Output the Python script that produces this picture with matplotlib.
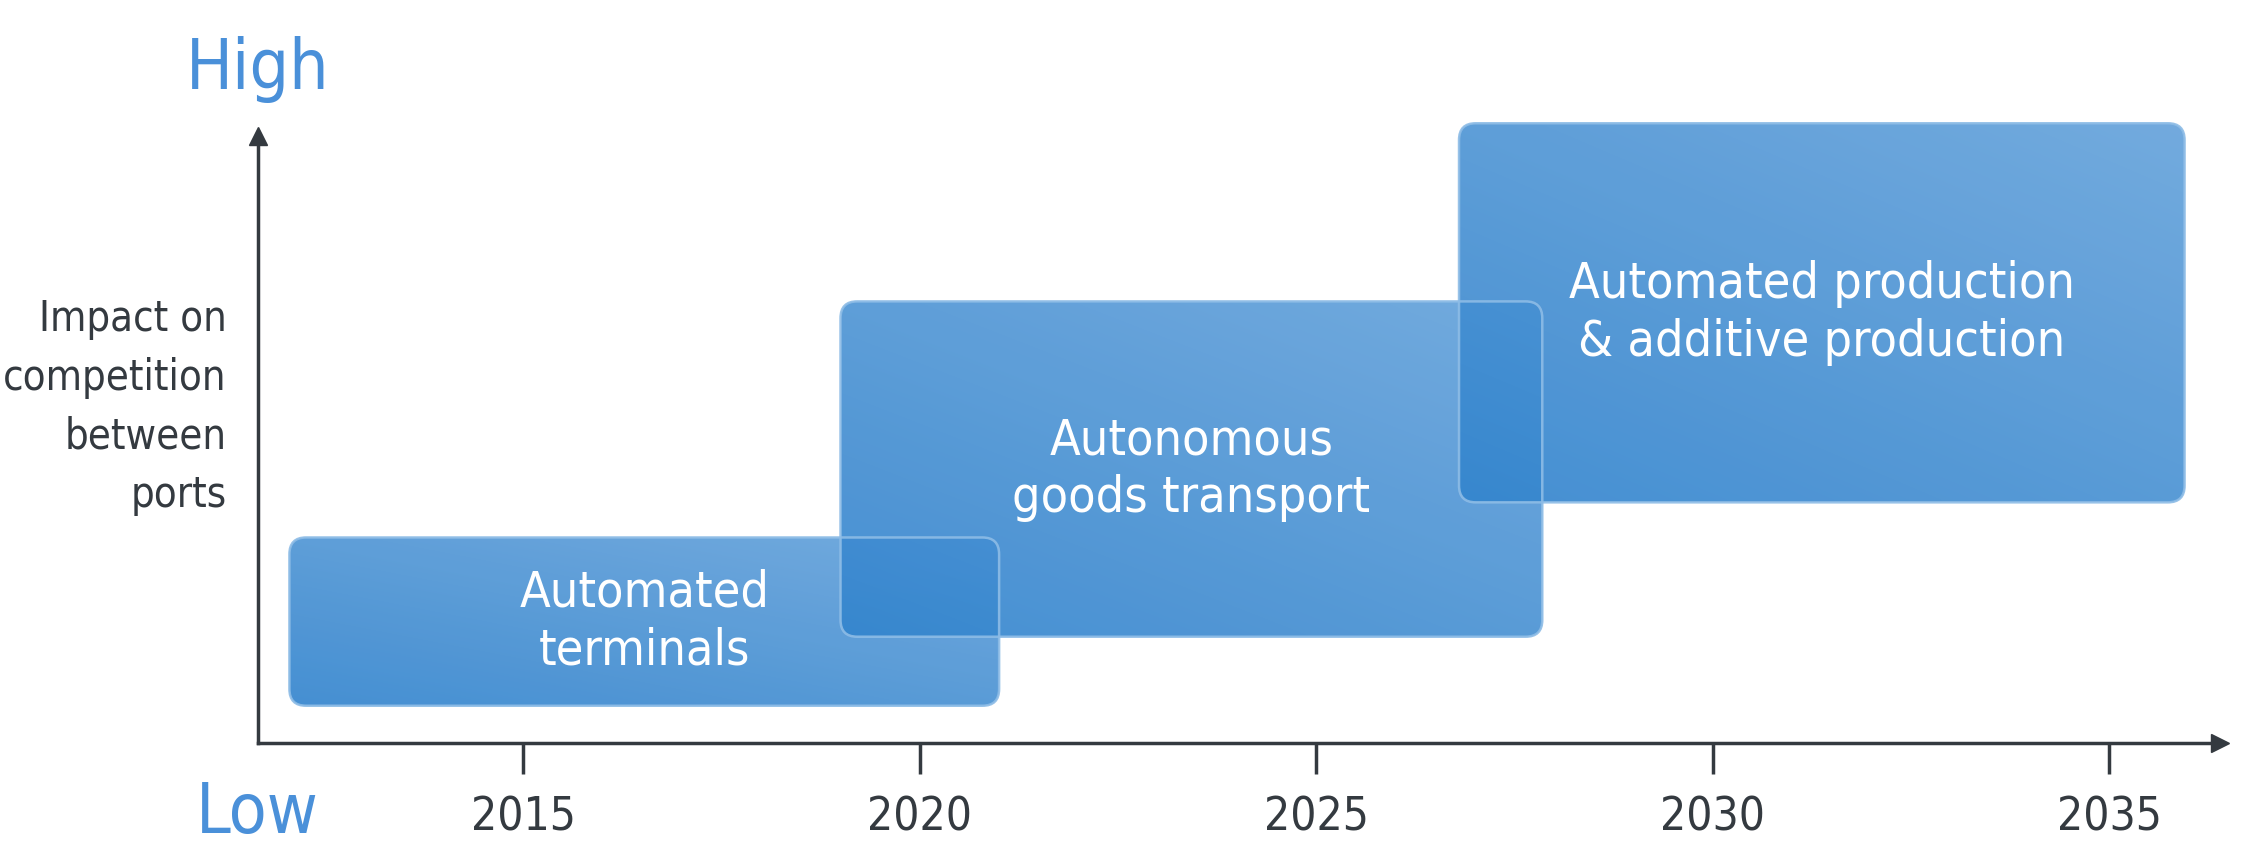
import matplotlib
matplotlib.use("Agg")
import matplotlib.pyplot as plt
import numpy as np
from matplotlib.patches import FancyBboxPatch
from matplotlib.colors import to_rgb

plt.rcParams['font.family'] = ['DejaVu Sans']
plt.rcParams['font.stretch'] = 'condensed'

# data
items = ["Automated\nterminals", "Autonomous\ngoods transport",
         "Automated production\n& additive production"]
year_start = [2012.05, 2019.0, 2026.8]
year_end = [2021.0, 2027.85, 2035.95]
impact_low = [0.6, 1.72, 3.9]
impact_high = [3.33, 7.16, 10.05]
years = [2015, 2020, 2025, 2030, 2035]

dark = '#343a40'
blue_text = '#4a90d9'
c_dark = np.array(to_rgb('#3485ce'))
c_light = np.array(to_rgb('#66a3db'))

fig = plt.figure(figsize=(22.48, 8.66), dpi=100)
ax = fig.add_axes([0, 0, 1, 1])

# boxes with diagonal gradient
for name, x0, x1, y0, y1 in zip(items, year_start, year_end, impact_low, impact_high):
    gx, gy = np.meshgrid(np.linspace(0, 1, 200), np.linspace(0, 1, 100))
    t = (gx * 0.45 + gy * 0.55)
    img = np.zeros((100, 200, 4))
    for k in range(3):
        img[:, :, k] = c_dark[k] + (c_light[k] - c_dark[k]) * t
    img[:, :, 3] = 0.92
    im = ax.imshow(img, extent=(x0, x1, y0, y1), origin='lower', aspect='auto',
                   interpolation='bilinear', zorder=2)
    clip = FancyBboxPatch((x0, y0), x1 - x0, y1 - y0,
                          boxstyle="round,pad=0,rounding_size=0.21",
                          mutation_aspect=1.29, transform=ax.transData,
                          facecolor='none', edgecolor='none')
    ax.add_patch(clip)
    im.set_clip_path(clip)
    edge = FancyBboxPatch((x0, y0), x1 - x0, y1 - y0,
                          boxstyle="round,pad=0,rounding_size=0.21",
                          mutation_aspect=1.29, facecolor='none',
                          edgecolor='#8dbce6', lw=1.8, alpha=0.9, zorder=3)
    ax.add_patch(edge)
    ax.text((x0 + x1) / 2, (y0 + y1) / 2, name, color='white', fontsize=36,
            ha='center', va='center', multialignment='center',
            linespacing=1.25, zorder=4)

ax.set_xlim(2008.40, 2036.75)
ax.set_ylim(-2.0, 12.05)

# axes as arrows
y_axis_x = 2011.65
for side in ['top', 'right']:
    ax.spines[side].set_visible(False)
ax.spines['left'].set_position(('data', y_axis_x))
ax.spines['left'].set_bounds(0, 9.8)
ax.spines['bottom'].set_position(('data', 0))
ax.spines['bottom'].set_bounds(y_axis_x, 2036.3)
for side in ['left', 'bottom']:
    ax.spines[side].set_color(dark)
    ax.spines[side].set_linewidth(2.5)
ax.plot(y_axis_x, 9.85, marker='^', markersize=13, color=dark, clip_on=False)
ax.plot(2036.4, 0, marker='>', markersize=13, color=dark, clip_on=False)

ax.set_yticks([])
ax.set_xticks(years)
ax.set_xticklabels([str(y) for y in years])
ax.tick_params(axis='x', direction='out', length=22, width=2.5, color=dark,
               labelsize=33, labelcolor=dark, pad=16)

ax.text(y_axis_x, 10.6, "High", color=blue_text, fontsize=50,
        ha='center', va='baseline', fontweight='light')
ax.text(y_axis_x, -1.47, "Low", color=blue_text, fontsize=50,
        ha='center', va='baseline', fontweight='light')
ax.text(2011.26, 5.45, "Impact on\ncompetition\nbetween\nports", color=dark,
        fontsize=30, ha='right', va='center', multialignment='right',
        linespacing=1.5)

fig.savefig("out.png", dpi=100)
